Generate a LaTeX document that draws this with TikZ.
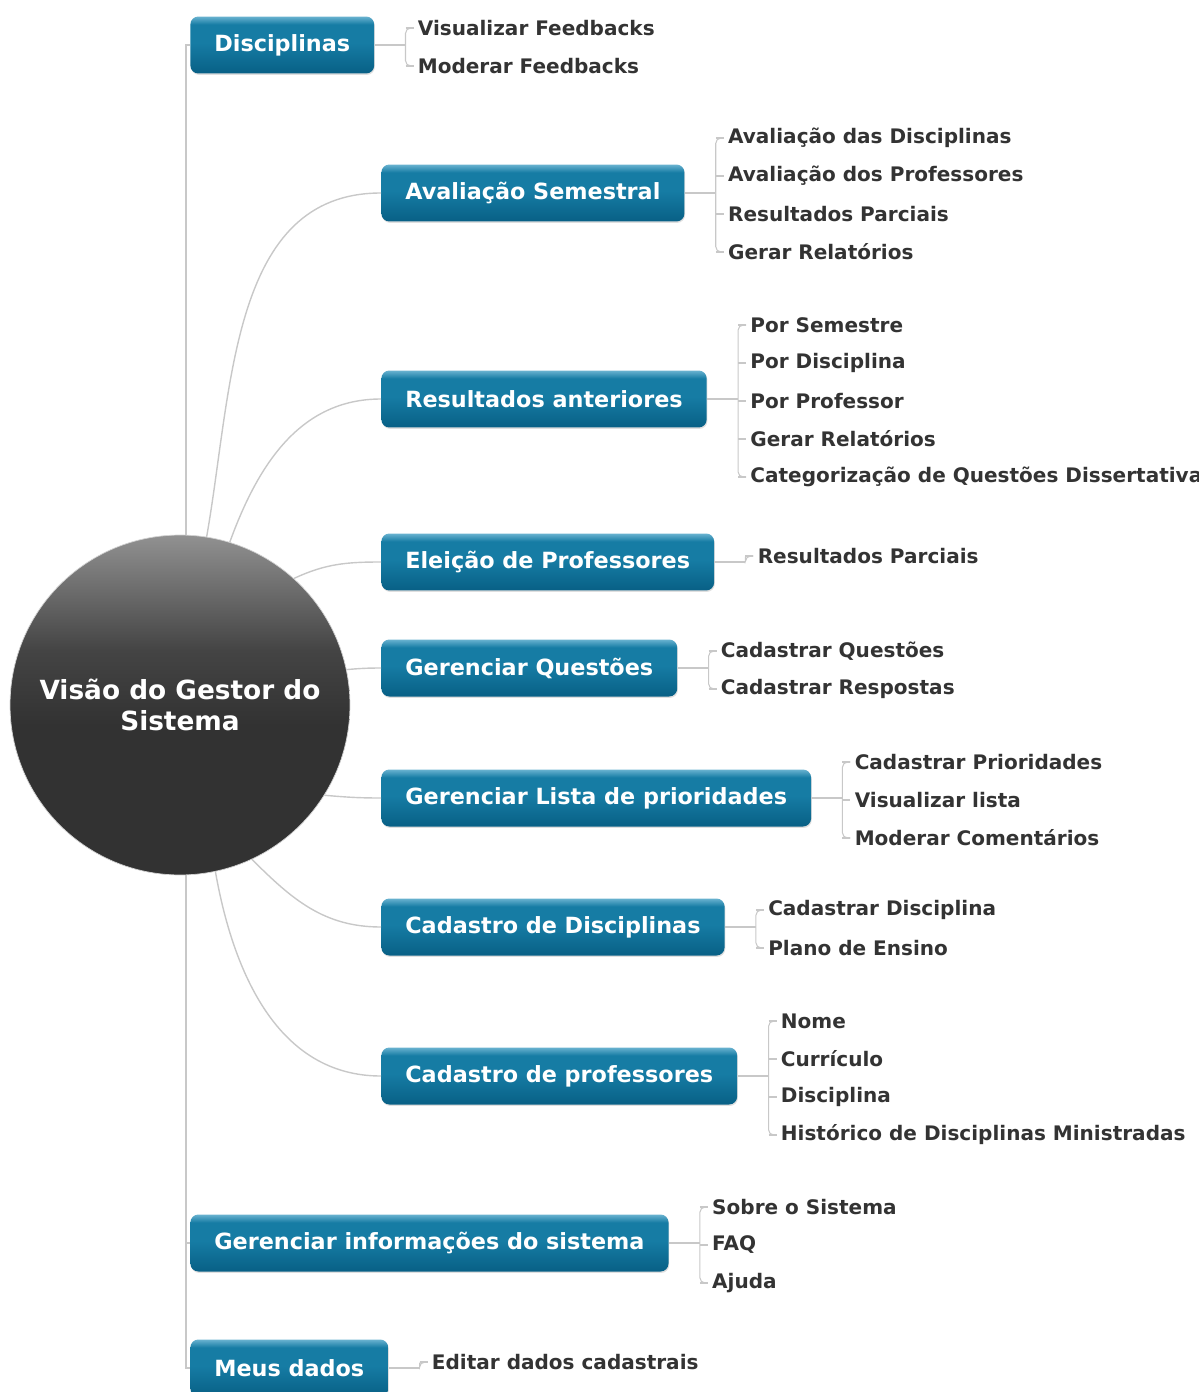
\documentclass[tikz,border=0pt]{standalone}
\usepackage{fontspec}
\setmainfont{DejaVu Sans}
\usetikzlibrary{calc,shadows}

\definecolor{boxtop}{RGB}{105,178,208}
\definecolor{boxmid}{RGB}{22,124,164}
\definecolor{boxbot}{RGB}{8,96,134}
\definecolor{hubtop}{RGB}{145,145,145}
\definecolor{hubmid}{RGB}{68,68,68}
\definecolor{hubbot}{RGB}{50,50,50}
\definecolor{limbgray}{RGB}{200,200,200}
\definecolor{itemtext}{RGB}{51,51,51}

\pgfdeclareverticalshading{boxshade}{100bp}{color(0bp)=(boxbot); color(25bp)=(boxbot);
    color(52bp)=(boxmid); color(68bp)=(boxmid); color(75bp)=(boxtop); color(100bp)=(boxtop)}
\pgfdeclareverticalshading{hubshade}{100bp}{color(0bp)=(hubbot); color(25bp)=(hubbot);
    color(47bp)=(hubbot); color(58bp)=(hubmid); color(75bp)=(hubtop); color(100bp)=(hubtop)}

\begin{document}
\begin{tikzpicture}[x = 0.02cm, y = -0.02cm,
    hub/.style = {circle, minimum size = 6.8cm, inner sep = 0, draw = gray!35,
        shading = hubshade, text = white, align = center,
        font = \fontsize{15}{18}\selectfont\bfseries},
    box/.style = {anchor = west, rounded corners = 0.16cm, minimum height = 1.14cm,
        inner xsep = 0.48cm, shading = boxshade,
        text = white, font = \fontsize{12.7}{15}\selectfont\bfseries,
        drop shadow = {opacity = .25, shadow xshift = .4pt, shadow yshift = -.8pt}},
    item/.style = {anchor = west, inner xsep = 0.08cm, inner ysep = 0, text = itemtext,
        font = \fontsize{11.4}{13}\selectfont\bfseries},
    limb/.style = {draw = limbgray, line width = .8pt},
    twig/.style = {draw = limbgray, line width = .6pt}]

    \useasboundingbox (0, 0) rectangle (1198, 1392);

    % centre
    \node [hub] (hub) at (180, 705) {Visão do Gestor do\\Sistema};

    % first level
    \node [box] (b1) at (190, 45) {Disciplinas};
    \node [box] (b2) at (381, 193) {Avaliação Semestral};
    \node [box] (b3) at (381, 399) {Resultados anteriores};
    \node [box] (b4) at (381, 562) {Eleição de Professores};
    \node [box] (b5) at (381, 668) {Gerenciar Questões};
    \node [box] (b6) at (381, 798) {Gerenciar Lista de prioridades};
    \node [box] (b7) at (381, 927) {Cadastro de Disciplinas};
    \node [box] (b8) at (381, 1076) {Cadastro de professores};
    \node [box] (b9) at (190, 1243) {Gerenciar informações do sistema};
    \node [box] (b10) at (190, 1368) {Meus dados};

    % limbs from the centre
    \draw [limb] (hub.88.5) |- (b1.west);
    \draw [limb] (hub.-88.5) |- (b9.west);
    \draw [limb] (hub.-88.5) |- (b10.west);
    \draw [limb] (hub.81) to [out = 80, in = 180] (b2.west);
    \draw [limb] (hub.73) to [out = 70, in = 180] (b3.west);
    \draw [limb] (hub.48) to [out = 25, in = 180] (b4.west);
    \draw [limb] (hub.12) to [out = 5, in = 180] (b5.west);
    \draw [limb] (hub.-32) to [out = -5, in = 180] (b6.west);
    \draw [limb] (hub.-65) to [out = -45, in = 180] (b7.west);
    \draw [limb] (hub.-78) to [out = -80, in = 180] (b8.west);

    % second level
    \foreach \t [count = \i] in {Visualizar Feedbacks, Moderar Feedbacks}
        \node [item] (b1-\i) at ($(b1.east) + (39, {38*(\i-1) - 17})$) {\t};
    \foreach \t [count = \i] in {Avaliação das Disciplinas, Avaliação dos Professores,
            Resultados Parciais, Gerar Relatórios}
        \node [item] (b2-\i) at ($(b2.east) + (39, {38*(\i-1) - 55})$) {\t};
    \foreach \t [count = \i] in {Por Semestre, Por Disciplina, Por Professor,
            Gerar Relatórios, Categorização de Questões Dissertativas}
        \node [item] (b3-\i) at ($(b3.east) + (39, {38*(\i-1) - 74})$) {\t};
    \node [item] (b4-1) at ($(b4.east) + (39, -6)$) {Resultados Parciais};
    \foreach \t [count = \i] in {Cadastrar Questões, Cadastrar Respostas}
        \node [item] (b5-\i) at ($(b5.east) + (39, {38*(\i-1) - 17})$) {\t};
    \foreach \t [count = \i] in {Cadastrar Prioridades, Visualizar lista, Moderar Comentários}
        \node [item] (b6-\i) at ($(b6.east) + (39, {38*(\i-1) - 36})$) {\t};
    \foreach \t [count = \i] in {Cadastrar Disciplina, Plano de Ensino}
        \node [item] (b7-\i) at ($(b7.east) + (39, {38*(\i-1) - 17})$) {\t};
    \foreach \t [count = \i] in {Nome, Currículo, Disciplina,
            Histórico de Disciplinas Ministradas}
        \node [item] (b8-\i) at ($(b8.east) + (39, {38*(\i-1) - 55})$) {\t};
    \foreach \t [count = \i] in {Sobre o Sistema, FAQ, Ajuda}
        \node [item] (b9-\i) at ($(b9.east) + (39, {38*(\i-1) - 36})$) {\t};
    \node [item] (b10-1) at ($(b10.east) + (39, -6)$) {Editar dados cadastrais};

    % twigs
    \foreach \b/\n in {b1/2, b2/4, b3/5, b4/1, b5/2, b6/3, b7/2, b8/4, b9/3, b10/1} {
        \draw [twig] (\b.east) -- ++(31, 0) coordinate (k-\b);
        \draw [twig, rounded corners = 3pt] (\b-1.west) -| (k-\b) |- (\b-\n.west);
        \foreach \i in {1, ..., \n}
            \draw [twig] (k-\b |- \b-\i.west) -- (\b-\i.west);
    }
\end{tikzpicture}
\end{document}
